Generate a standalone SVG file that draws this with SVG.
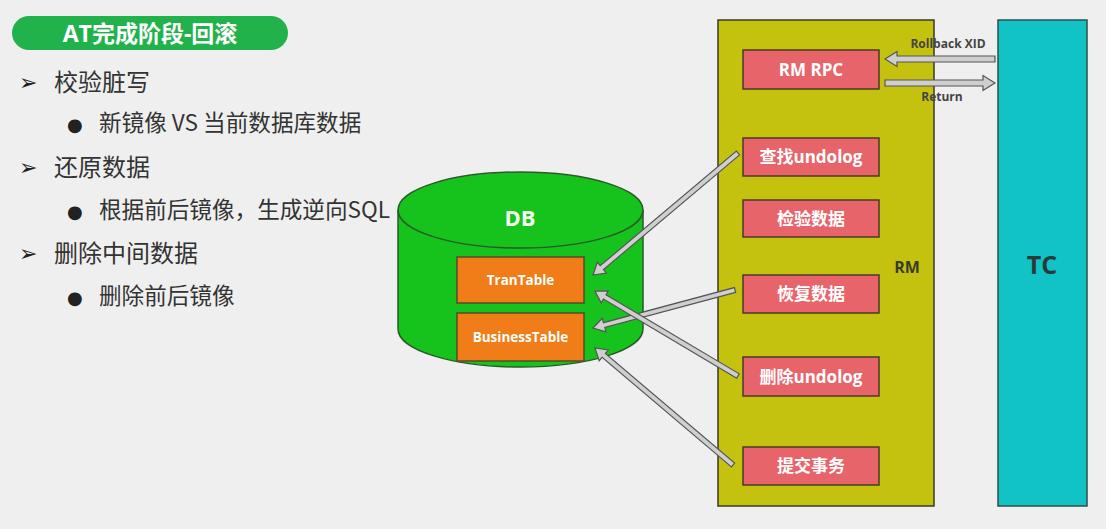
<svg xmlns="http://www.w3.org/2000/svg" width="1106" height="529" viewBox="0 0 1106 529">
<style>
.cjk{font-family:"Noto Sans CJK SC","Noto Sans",sans-serif;}
.lbl{font-family:"Open Sans","Noto Sans CJK SC",sans-serif;font-weight:bold;}
.bul{font-family:"DejaVu Sans",sans-serif;fill:#222;}
.txt{fill:#333;}
.red{fill:#e8646b;stroke:#4a3a2a;stroke-width:1.5;}
.redt{fill:#fff;font-size:17px;text-anchor:middle;}
.org{fill:#f07d17;stroke:#5a4a2a;stroke-width:1.5;}
.orgt{fill:#fff;font-size:13.5px;text-anchor:middle;}
.arr{fill:#cfcfcf;stroke:#555;stroke-width:1.2;stroke-linejoin:miter;}
</style>
<rect width="1106" height="529" fill="#efefef"/>

<g id="title">
<rect x="12" y="16" width="276" height="34" rx="17" fill="#22b24c"/>
<text x="150" y="42" class="lbl" font-size="23" fill="#fff" text-anchor="middle">AT完成阶段-回滚</text>
</g>

<g id="bullets">
<text x="19" y="90" class="bul" font-size="22">➢</text>
<text x="54" y="91" class="cjk txt" font-size="24">校验脏写</text>
<text x="67" y="131" class="bul" font-size="18">●</text>
<text x="99" y="131" class="cjk txt" font-size="22.6">新镜像 VS 当前数据库数据</text>
<text x="19" y="175" class="bul" font-size="22">➢</text>
<text x="54" y="176" class="cjk txt" font-size="24">还原数据</text>
<text x="67" y="218" class="bul" font-size="18">●</text>
<text x="99" y="218" class="cjk txt" font-size="22.6">根据前后镜像，生成逆向SQL</text>
<text x="19" y="261" class="bul" font-size="22">➢</text>
<text x="54" y="262" class="cjk txt" font-size="24">删除中间数据</text>
<text x="67" y="304" class="bul" font-size="18">●</text>
<text x="99" y="304" class="cjk txt" font-size="22.6">删除前后镜像</text>
</g>

<g id="RM">
<rect x="718" y="20" width="216" height="486" fill="#c4c20e" stroke="#3a3a2a" stroke-width="1.5"/>
<text x="907" y="273" class="lbl" font-size="16" fill="#3a3a2a" text-anchor="middle">RM</text>
</g>

<g id="TC">
<rect x="998" y="20" width="89" height="486" fill="#11c3c5" stroke="#2f4f4f" stroke-width="1.5"/>
<text x="1042" y="274" class="lbl" font-size="25" fill="#2a3a3a" text-anchor="middle">TC</text>
</g>

<g id="DB">
<path d="M398,210 L398,329 A122.5,38 0 0 0 643,329 L643,210" fill="#16c21c" stroke="#2a5a2a" stroke-width="1.5"/>
<ellipse cx="520.5" cy="210" rx="122.5" ry="38" fill="#16c21c" stroke="#2a5a2a" stroke-width="1.5"/>
<text x="520" y="226" class="lbl" font-size="22" fill="#f4fff0" text-anchor="middle">DB</text>
</g>

<g id="TranTable">
<rect x="457" y="257" width="127" height="46" class="org"/>
<text x="520.5" y="285" class="lbl orgt">TranTable</text>
</g>
<g id="BusinessTable">
<rect x="457" y="313" width="127" height="48" class="org"/>
<text x="520.5" y="342" class="lbl orgt">BusinessTable</text>
</g>

<g id="RMRPC">
<rect x="743" y="50" width="136" height="39" class="red"/>
<text x="811" y="76" class="lbl redt" font-size="18">RM RPC</text>
</g>
<g id="findUndolog">
<rect x="743" y="138" width="136" height="38" class="red"/>
<text x="811" y="163" class="lbl redt">查找undolog</text>
</g>
<g id="checkData">
<rect x="743" y="200" width="136" height="37" class="red"/>
<text x="811" y="224.5" class="lbl redt">检验数据</text>
</g>
<g id="restoreData">
<rect x="743" y="275" width="136" height="38" class="red"/>
<text x="811" y="300" class="lbl redt">恢复数据</text>
</g>
<g id="deleteUndolog">
<rect x="743" y="357" width="136" height="39" class="red"/>
<text x="811" y="382.5" class="lbl redt">删除undolog</text>
</g>
<g id="commitTx">
<rect x="743" y="447" width="136" height="38" class="red"/>
<text x="811" y="472" class="lbl redt">提交事务</text>
</g>

<g id="connectors">
<g transform="translate(995,59) rotate(180)"><polygon class="arr" points="0,-3 98,-3 98,-7.5 110,0 98,7.5 98,3 0,3"/></g>
<g transform="translate(885,83)"><polygon class="arr" points="0,-3 98,-3 98,-7.5 110,0 98,7.5 98,3 0,3"/></g>
<g transform="translate(738,153) rotate(139.9)"><polygon class="arr" points="0,-2.5 178,-2.5 178,-7 189.5,0 178,7 178,2.5 0,2.5"/></g>
<g transform="translate(735,290) rotate(165)"><polygon class="arr" points="0,-2.5 135.5,-2.5 135.5,-7 147,0 135.5,7 135.5,2.5 0,2.5"/></g>
<g transform="translate(738,376) rotate(-149.3)"><polygon class="arr" points="0,-2.5 155,-2.5 155,-7 166.4,0 155,7 155,2.5 0,2.5"/></g>
<g transform="translate(733,465) rotate(-139.7)"><polygon class="arr" points="0,-2.5 169.5,-2.5 169.5,-7 181,0 169.5,7 169.5,2.5 0,2.5"/></g>
<text x="948" y="48" class="lbl" font-size="12" fill="#444" text-anchor="middle">Rollback XID</text>
<text x="942" y="101" class="lbl" font-size="12" fill="#444" text-anchor="middle">Return</text>
</g>
</svg>
